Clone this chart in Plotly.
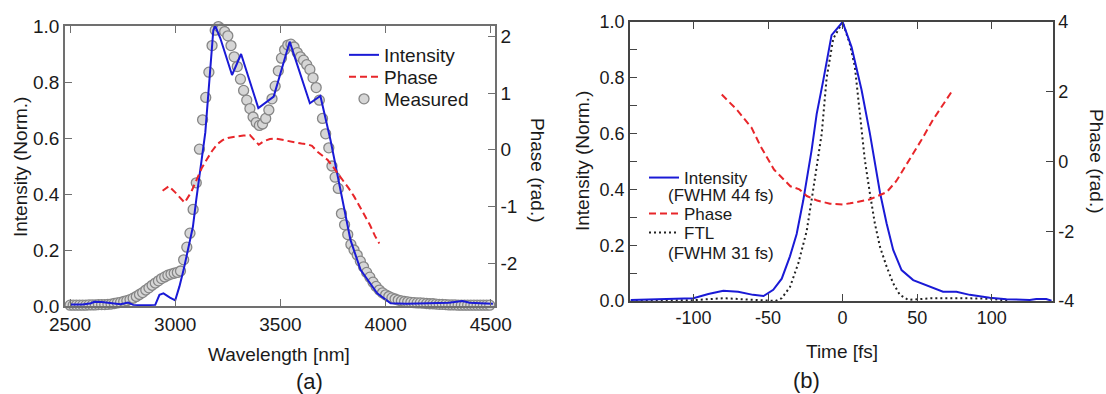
import plotly.graph_objects as go

# ---------------- data: panel (a) ----------------
wl_measured = [2500, 2515, 2530, 2545, 2560, 2575, 2590, 2605, 2620, 2635,
               2650, 2665, 2680, 2695, 2710, 2725, 2740, 2755, 2770, 2785,
               2800, 2815, 2830, 2845, 2860, 2875, 2890, 2905, 2920, 2935,
               2950, 2965, 2980, 2995, 3010, 3025, 3040, 3055, 3070, 3085,
               3100, 3115, 3130, 3145, 3160, 3175, 3190, 3205, 3220, 3235,
               3250, 3265, 3280, 3295, 3310, 3325, 3340, 3355, 3370, 3385,
               3400, 3415, 3430, 3445, 3460, 3475, 3490, 3505, 3520, 3535,
               3550, 3565, 3580, 3595, 3610, 3625, 3640, 3655, 3670, 3685,
               3700, 3715, 3730, 3745, 3760, 3775, 3790, 3805, 3820, 3835,
               3850, 3865, 3880, 3895, 3910, 3925, 3940, 3955, 3970, 3985,
               4000, 4015, 4030, 4045, 4060, 4075, 4090, 4105, 4120, 4135,
               4150, 4165, 4180, 4195, 4210, 4225, 4240, 4255, 4270, 4285,
               4300, 4315, 4330, 4345, 4360, 4375, 4390, 4405, 4420, 4435,
               4450, 4465, 4480, 4495]
measured = [0.003, 0.003, 0.003, 0.003, 0.003, 0.003, 0.004, 0.004, 0.004, 0.005,
            0.005, 0.005, 0.006, 0.007, 0.009, 0.011, 0.013, 0.016, 0.019, 0.023,
            0.028, 0.034, 0.041, 0.048, 0.057, 0.065, 0.074, 0.082, 0.090, 0.098,
            0.104, 0.110, 0.114, 0.117, 0.120, 0.125, 0.165, 0.210, 0.260, 0.345,
            0.440, 0.560, 0.665, 0.745, 0.835, 0.930, 0.985, 0.998, 0.990, 0.980,
            0.965, 0.930, 0.890, 0.855, 0.810, 0.770, 0.735, 0.705, 0.675, 0.655,
            0.645, 0.650, 0.670, 0.700, 0.740, 0.785, 0.840, 0.885, 0.915, 0.932,
            0.935, 0.925, 0.905, 0.890, 0.878, 0.862, 0.845, 0.815, 0.780, 0.735,
            0.670, 0.615, 0.565, 0.500, 0.460, 0.420, 0.330, 0.290, 0.255, 0.220,
            0.200, 0.182, 0.160, 0.140, 0.120, 0.103, 0.085, 0.070, 0.057, 0.047,
            0.040, 0.034, 0.029, 0.025, 0.021, 0.018, 0.016, 0.015, 0.013, 0.012,
            0.011, 0.011, 0.010, 0.009, 0.008, 0.008, 0.007, 0.006, 0.006, 0.005,
            0.004, 0.004, 0.004, 0.003, 0.003, 0.003, 0.003, 0.003, 0.003, 0.003,
            0.003, 0.003, 0.003, 0.003]

wl_intensity = [2500, 2560, 2600, 2615, 2650, 2700, 2740, 2776, 2800, 2850,
                2905, 2925, 2944, 2975, 3000, 3020, 3040, 3063, 3084, 3100,
                3143, 3181, 3190, 3214, 3270, 3313, 3395, 3468, 3544, 3640,
                3690, 3738, 3778, 3833, 3881, 3960, 4024, 4100, 4200, 4300,
                4365, 4400, 4450, 4510]
intensity_a = [0.005, 0.005, 0.010, 0.015, 0.014, 0.010, 0.006, 0.012, 0.004, 0.003,
               0.004, 0.040, 0.045, 0.030, 0.020, 0.070, 0.130, 0.210, 0.283, 0.380,
               0.620, 0.985, 1.000, 0.957, 0.825, 0.900, 0.707, 0.748, 0.944, 0.724,
               0.750, 0.593, 0.440, 0.236, 0.129, 0.045, 0.010, 0.008, 0.010, 0.012,
               0.018, 0.012, 0.010, 0.008]

wl_phase = [2940, 2970, 3000, 3045, 3075, 3100, 3125, 3150, 3175, 3200,
            3225, 3250, 3275, 3300, 3325, 3355, 3375, 3397, 3420, 3450,
            3475, 3500, 3525, 3550, 3575, 3600, 3625, 3650, 3675, 3700,
            3725, 3750, 3775, 3800, 3825, 3850, 3875, 3900, 3925, 3950, 3970]
phase_a = [-0.72, -0.64, -0.75, -0.93, -0.75, -0.55, -0.33, -0.17, -0.02, 0.10,
           0.17, 0.21, 0.23, 0.24, 0.25, 0.26, 0.18, 0.09, 0.15, 0.19,
           0.20, 0.18, 0.17, 0.15, 0.13, 0.11, 0.10, 0.07, -0.03, -0.10,
           -0.18, -0.30, -0.42, -0.55, -0.68, -0.82, -0.98, -1.15, -1.32, -1.52, -1.65]

# ---------------- data: panel (b) ----------------
t_intensity = [-142, -100, -90, -80, -70, -60, -53, -46.5, -40.8, -35.3,
               -30.8, -26.4, -20.8, -17.4, -13, -7.4, 0, 6, 12.7, 18.3,
               25, 29.5, 33.9, 39.5, 47.3, 58.4, 67.3, 76.3, 85.2, 98.6,
               109.8, 125.4, 129.8, 136.5, 140]
intensity_b = [0.004, 0.010, 0.025, 0.037, 0.033, 0.022, 0.018, 0.040, 0.080, 0.160,
               0.240, 0.360, 0.540, 0.670, 0.790, 0.953, 1.000, 0.910, 0.756, 0.600,
               0.390, 0.278, 0.183, 0.111, 0.075, 0.051, 0.033, 0.033, 0.022, 0.012,
               0.006, 0.004, 0.007, 0.007, 0.001]

t_ftl = [-142, -100, -80, -60, -45, -40.8, -35.3, -29.7, -24.1, -19.7,
         -14, -10.7, -6.3, 0, 4.9, 8.2, 11.6, 14.9, 18.3, 21.6,
         25, 29.5, 33.9, 38.4, 43.9, 60, 80, 100, 112]
ftl = [0.000, 0.003, 0.010, 0.003, 0.000, 0.010, 0.050, 0.135, 0.250, 0.400,
       0.600, 0.800, 0.940, 1.000, 0.920, 0.840, 0.660, 0.505, 0.385, 0.278,
       0.195, 0.123, 0.063, 0.022, 0.004, 0.010, 0.010, 0.008, 0.000]

t_phase = [-81, -71, -61, -55, -46, -35, -29, -24, -17, -8.5,
           0, 5, 18, 29.5, 36, 45, 53, 60.6, 68.4, 74]
phase_b = [1.92, 1.49, 0.965, 0.44, -0.23, -0.71, -0.80, -0.99, -1.12, -1.21,
           -1.23, -1.20, -1.09, -0.88, -0.56, 0.06, 0.63, 1.20, 1.68, 2.06]

# ---------------- tick labels ----------------
xa_ticks = [2500, 3000, 3500, 4000, 4500]
xa_labels = ["2500", "3000", "3500", "4000", "4500"]
int_ticks = [0.0, 0.2, 0.4, 0.6, 0.8, 1.0]
int_labels = ["0.0", "0.2", "0.4", "0.6", "0.8", "1.0"]
pha_ticks = [-2, -1, 0, 1, 2]
pha_labels = ["-2", "-1", "0", "1", "2"]
xb_ticks = [-100, -50, 0, 50, 100]
xb_labels = ["-100", "-50", "0", "50", "100"]
phb_ticks = [-4, -2, 0, 2, 4]
phb_labels = ["-4", "-2", "0", "2", "4"]

FONT = "Liberation Sans, Arial, Helvetica, sans-serif"
BLUE = "#1a1ad6"
RED = "#e8262a"
TXT = "#1a1a1a"
DASH = "7px,4px"
DOT = "2px,3px"
W, H = 1106, 394


def px(x):
    return x / W


def py(y):
    return 1 - y / H


fig = go.Figure()

# panel (a)
fig.add_trace(go.Scatter(x=wl_measured, y=measured, mode="markers", name="Measured",
                         marker=dict(size=10, color="#d6d6d6", line=dict(color="#868686", width=1.3)),
                         xaxis="x", yaxis="y", legend="legend4", cliponaxis=False))
fig.add_trace(go.Scatter(x=wl_intensity, y=intensity_a, mode="lines", name="Intensity",
                         line=dict(color=BLUE, width=2),
                         xaxis="x", yaxis="y", legend="legend", cliponaxis=False))
fig.add_trace(go.Scatter(x=wl_phase, y=phase_a, mode="lines", name="Phase",
                         line=dict(color=RED, width=2, dash=DASH),
                         xaxis="x", yaxis="y2", legend="legend3", cliponaxis=False))

# panel (b)
fig.add_trace(go.Scatter(x=t_ftl, y=ftl, mode="lines", name="FTL",
                         line=dict(color="#222222", width=2, dash=DOT),
                         xaxis="x2", yaxis="y3", legend="legend7", cliponaxis=False))
fig.add_trace(go.Scatter(x=t_intensity, y=intensity_b, mode="lines", name="Intensity",
                         line=dict(color=BLUE, width=2),
                         xaxis="x2", yaxis="y3", legend="legend5", cliponaxis=False))
fig.add_trace(go.Scatter(x=t_phase, y=phase_b, mode="lines", name="Phase",
                         line=dict(color=RED, width=2, dash=DASH),
                         xaxis="x2", yaxis="y4", legend="legend6", cliponaxis=False))


def axis(color, size, **kw):
    d = dict(showline=True, linecolor=color, linewidth=1.5, ticks="inside", ticklen=7,
             tickwidth=1.3, tickcolor=color, showgrid=False, zeroline=False,
             automargin=False,
             tickfont=dict(family=FONT, size=size, color=TXT), tickmode="array")
    d.update(kw)
    return d


def leg(xl, yc, size):
    return dict(x=px(xl), y=py(yc), xanchor="left", yanchor="middle",
                font=dict(family=FONT, size=size, color=TXT),
                bgcolor="rgba(0,0,0,0)", itemwidth=30, borderwidth=0)


dom_a = [px(65), px(495)]
dom_ay = [py(306), py(26)]
dom_b = [px(630), px(1053)]
dom_by = [py(301), py(22)]

fig.update_layout(
    width=W, height=H, margin=dict(l=0, r=0, t=0, b=0, autoexpand=False),
    paper_bgcolor="white", plot_bgcolor="white",
    font=dict(family=FONT, color=TXT),
    xaxis=axis("#707070", 19, domain=dom_a, range=[2476, 4520], tickvals=xa_ticks,
               ticktext=xa_labels, mirror="ticks", anchor="y"),
    yaxis=axis("#707070", 19, domain=dom_ay, range=[0, 1.0], tickvals=int_ticks,
               ticktext=int_labels, mirror=True, anchor="x"),
    yaxis2=axis("#707070", 19, overlaying="y", side="right", anchor="x",
                range=[-2.75, 2.18], tickvals=pha_ticks, ticktext=pha_labels),
    xaxis2=axis("#444444", 18, domain=dom_b, range=[-142.5, 141], tickvals=xb_ticks,
                ticktext=xb_labels, mirror="ticks", anchor="y3"),
    yaxis3=axis("#444444", 18, domain=dom_by, range=[0, 1.0], tickvals=int_ticks,
                ticktext=int_labels, mirror=True, anchor="x2",
                minor=dict(tickvals=[0.1, 0.3, 0.5, 0.7, 0.9], ticks="inside",
                           ticklen=7, tickcolor="#444444", tickwidth=1.3)),
    yaxis4=axis("#444444", 18, overlaying="y3", side="right", anchor="x2",
                range=[-4, 4], tickvals=phb_ticks, ticktext=phb_labels),
    legend=leg(344, 55, 19),
    legend3=leg(344, 77, 19),
    legend4=leg(344, 99, 19),
    legend5=leg(644, 178, 17),
    legend6=leg(644, 214, 17),
    legend7=leg(644, 233, 17),
    showlegend=True,
)

ann_font = dict(family=FONT, size=19, color=TXT)
annotations = [
    dict(text="Intensity (Norm.)", x=px(20), y=py(167), textangle=-90),
    dict(text="Phase (rad.)", x=px(538), y=py(170), textangle=90),
    dict(text="Wavelength [nm]", x=px(279), y=py(354)),
    dict(text="Intensity (Norm.)", x=px(583), y=py(161), textangle=-90),
    dict(text="Phase (rad.)", x=px(1096), y=py(161), textangle=90),
    dict(text="Time [fs]", x=px(842), y=py(351)),
]
for a in annotations:
    fig.add_annotation(xref="paper", yref="paper", showarrow=False, font=ann_font,
                       xanchor="center", yanchor="middle", **a)
for txt, xc, yc in [("(FWHM 44 fs)", 721, 196), ("(FWHM 31 fs)", 721, 253)]:
    fig.add_annotation(text=txt, x=px(xc), y=py(yc), xref="paper", yref="paper",
                       showarrow=False, font=dict(family=FONT, size=17, color=TXT),
                       xanchor="center", yanchor="middle")
fig.add_annotation(text="(a)", x=px(309), y=py(381), xref="paper", yref="paper",
                   showarrow=False, font=dict(family=FONT, size=22, color=TXT),
                   xanchor="center", yanchor="middle")
fig.add_annotation(text="(b)", x=px(806), y=py(380), xref="paper", yref="paper",
                   showarrow=False, font=dict(family=FONT, size=22, color=TXT),
                   xanchor="center", yanchor="middle")

fig.write_html("out.html", config={"displayModeBar": False},
               post_script="document.body.style.margin='0';document.body.style.overflow='hidden';")
